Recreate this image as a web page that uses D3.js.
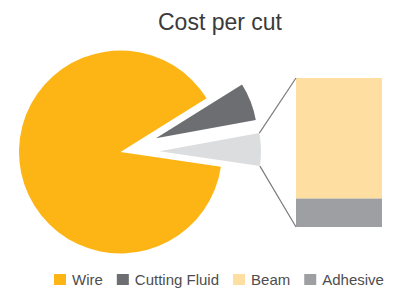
<!DOCTYPE html>
<html>
<head>
<meta charset="utf-8">
<script src="https://cdn.jsdelivr.net/npm/d3@7"></script>
<style>
  html, body { margin: 0; padding: 0; background: #ffffff; }
  svg { display: block; }
</style>
</head>
<body>
<svg id="chart" width="397" height="289"></svg>
<script>
// ---- data ----
const title = "Cost per cut";
const pieCategories = ["Cutting Fluid", "Other", "Wire"];
const pieValues = [6.0, 5.2, 88.8];
const barCategories = ["Beam", "Adhesive"];
const barValues = [4.2, 1.0];
const legendLabels = ["Wire", "Cutting Fluid", "Beam", "Adhesive"];
const colors = {
  "Wire": "#FDB515",
  "Cutting Fluid": "#6D6E71",
  "Other": "#DCDDDE",
  "Beam": "#FFDEA1",
  "Adhesive": "#9D9FA2"
};

// ---- layout ----
const W = 397, H = 289;
const cx = 120.5, cy = 152, R = 101.5;
const explode = { "Cutting Fluid": 38, "Other": 39, "Wire": 0 };
const otherCenterDeg = 1.0; // math angle (CCW from +x) of "Other" bisector
const svg = d3.select("#chart");

// title
svg.append("text")
  .attr("x", 220).attr("y", 29.5)
  .attr("text-anchor", "middle")
  .attr("font-family", "'Liberation Sans', Arial, Helvetica, sans-serif")
  .attr("font-size", 23)
  .attr("fill", "#3a3a3a")
  .text(title);

// pie
const total = d3.sum(pieValues);
const angOf = v => v / total * 2 * Math.PI;
const otherIdx = pieCategories.indexOf("Other");
const cfIdx = pieCategories.indexOf("Cutting Fluid");
// d3 angle: clockwise from 12 o'clock; math angle a -> d3 = PI/2 - a
const otherCenterD3 = Math.PI / 2 - otherCenterDeg * Math.PI / 180;
const start = otherCenterD3 - angOf(pieValues[otherIdx]) / 2 - angOf(pieValues[cfIdx]);

const pie = d3.pie().sort(null).value(d => d.v)
  .startAngle(start).endAngle(start + 2 * Math.PI);
const arcs = pie(pieCategories.map((c, i) => ({ c, v: pieValues[i] })));
const arc = d3.arc().innerRadius(0).outerRadius(R);

const g = svg.append("g").attr("transform", `translate(${cx},${cy})`);
const offsetOf = a => {
  const mid = (a.startAngle + a.endAngle) / 2;
  const d = explode[a.data.c];
  return [Math.sin(mid) * d, -Math.cos(mid) * d];
};
g.selectAll("path.slice").data(arcs).join("path")
  .attr("class", "slice")
  .attr("d", arc)
  .attr("fill", d => colors[d.data.c])
  .attr("transform", d => { const o = offsetOf(d); return `translate(${o[0]},${o[1]})`; });

// stacked bar
const barX = 296, barW = 86, barTop = 78, barBottom = 227;
const yBar = d3.scaleLinear().domain([0, d3.sum(barValues)]).range([barBottom, barTop]);
let acc = 0;
const stack = barValues.map((v, i) => {
  const s = { c: barCategories[i], y0: acc, y1: acc + v };
  acc += v; return s;
});
// Beam on top, Adhesive at bottom: draw adhesive from 0, beam above
const ordered = [stack[1], stack[0]];
let acc2 = 0;
ordered.forEach(s => { s.b0 = acc2; s.b1 = acc2 + (s.y1 - s.y0); acc2 = s.b1; });
svg.selectAll("rect.bar").data(ordered).join("rect")
  .attr("class", "bar")
  .attr("x", barX).attr("width", barW)
  .attr("y", d => yBar(d.b1))
  .attr("height", d => yBar(d.b0) - yBar(d.b1))
  .attr("fill", d => colors[d.c]);

// connector lines
const oa = arcs[otherIdx];
const oo = offsetOf(oa);
const pt = ang => [cx + oo[0] + Math.sin(ang) * R, cy + oo[1] - Math.cos(ang) * R];
const pTop = pt(oa.startAngle), pBot = pt(oa.endAngle);
svg.append("line")
  .attr("x1", pTop[0]).attr("y1", pTop[1])
  .attr("x2", barX).attr("y2", yBar(d3.sum(barValues)))
  .attr("stroke", "#7a7b7e").attr("stroke-width", 1.2);
svg.append("line")
  .attr("x1", pBot[0]).attr("y1", pBot[1])
  .attr("x2", barX).attr("y2", yBar(0))
  .attr("stroke", "#7a7b7e").attr("stroke-width", 1.2);

// legend
const lg = svg.append("g");
let lx = 54;
const ly = 274;
legendLabels.forEach(lab => {
  lg.append("rect").attr("x", lx).attr("y", ly).attr("width", 12).attr("height", 11)
    .attr("fill", colors[lab]);
  const t = lg.append("text")
    .attr("x", lx + 18).attr("y", ly + 10.5)
    .attr("font-family", "'Liberation Sans', Arial, Helvetica, sans-serif")
    .attr("font-size", 15)
    .attr("fill", "#4d4d4f")
    .text(lab);
  lx = lx + 18 + t.node().getComputedTextLength() + 14;
});
</script>
</body>
</html>
